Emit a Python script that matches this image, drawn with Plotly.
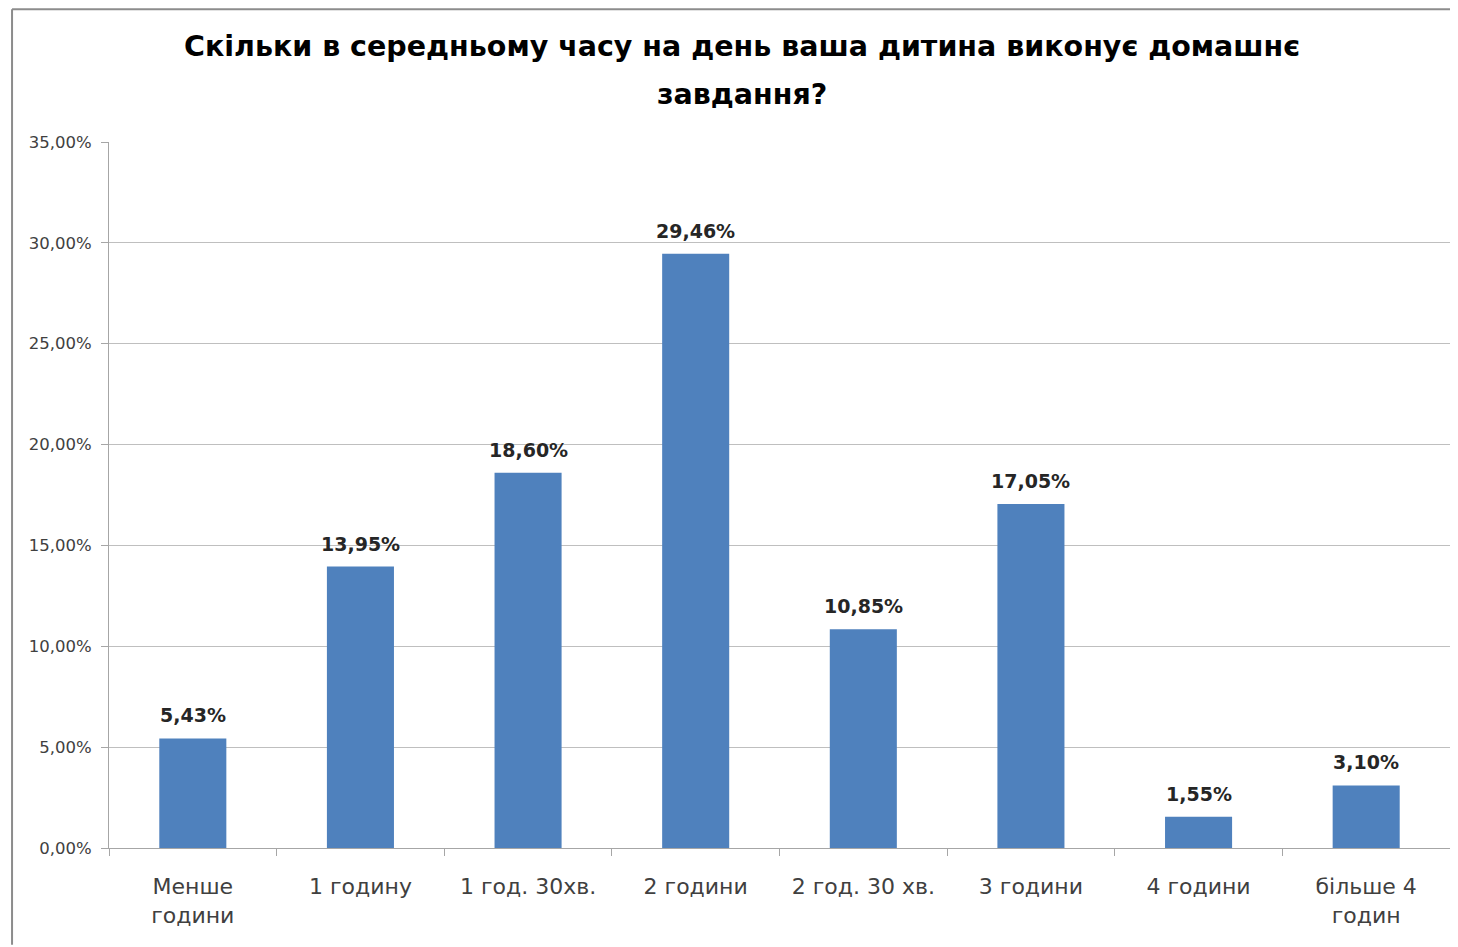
import plotly.graph_objects as go

categories = ["Менше<br>години", "1 годину", "1 год. 30хв.", "2 години",
              "2 год. 30 хв.", "3 години", "4 години", "більше 4<br>годин"]
values = [0.0543, 0.1395, 0.1860, 0.2946, 0.1085, 0.1705, 0.0155, 0.0310]
y_ticks = [0, 0.05, 0.10, 0.15, 0.20, 0.25, 0.30, 0.35]

title_lines = ["Скільки в середньому часу на день ваша дитина виконує домашнє",
               "завдання?"]
font = "DejaVu Sans"

fig = go.Figure(go.Bar(
    x=categories,
    y=values,
    marker=dict(color="#4F81BD", line=dict(width=0)),
))

# data labels above bars
for cat, val in zip(categories, values):
    label = f"{val * 100:.2f}%".replace(".", ",")
    fig.add_annotation(
        x=cat, y=val, text=f"<b>{label}</b>", showarrow=False,
        yanchor="bottom", yshift=10,
        font=dict(size=19, color="#262626", family=font),
    )

# page body has an 8px margin, so the figure is a bit smaller than the window
fig.update_layout(
    width=1450,
    height=939,
    separators=",.",
    plot_bgcolor="white",
    paper_bgcolor="white",
    bargap=0.6,
    margin=dict(l=101, r=8, t=134, b=99, autoexpand=False),
    font=dict(family=font),
    showlegend=False,
)

for text, ypos in zip(title_lines, [1.1346, 1.0666]):
    fig.add_annotation(
        text=f"<b>{text}</b>", xref="paper", yref="paper",
        x=0.472, y=ypos, xanchor="center", yanchor="middle",
        showarrow=False, font=dict(size=28.5, color="#000000", family=font),
    )

fig.update_yaxes(
    range=[0, 0.35],
    tickvals=y_ticks,
    tickformat=".2%",
    tickfont=dict(size=16.5, color="#404040"),
    showgrid=True,
    gridcolor="#BFBFBF",
    gridwidth=1,
    showline=True,
    linecolor="#A6A6A6",
    ticks="outside",
    ticklen=7,
    tickcolor="#A6A6A6",
    ticklabelstandoff=6,
    zeroline=False,
)

fig.update_xaxes(
    tickfont=dict(size=22, color="#404040"),
    showline=True,
    linecolor="#A6A6A6",
    ticks="outside",
    tickson="boundaries",
    ticklen=7,
    tickcolor="#A6A6A6",
    ticklabelstandoff=19,
    showgrid=False,
)

# chart outer frame (visible on top and left edges in the original)
fig.add_shape(type="line", xref="paper", yref="paper",
              x0=-0.0723, x1=-0.0723, y0=-0.137, y1=1.188,
              line=dict(color="#8C8C8C", width=2))
fig.add_shape(type="line", xref="paper", yref="paper",
              x0=-0.0723, x1=1.006, y0=1.188, y1=1.188,
              line=dict(color="#8C8C8C", width=2))

fig.write_html("out.html")
